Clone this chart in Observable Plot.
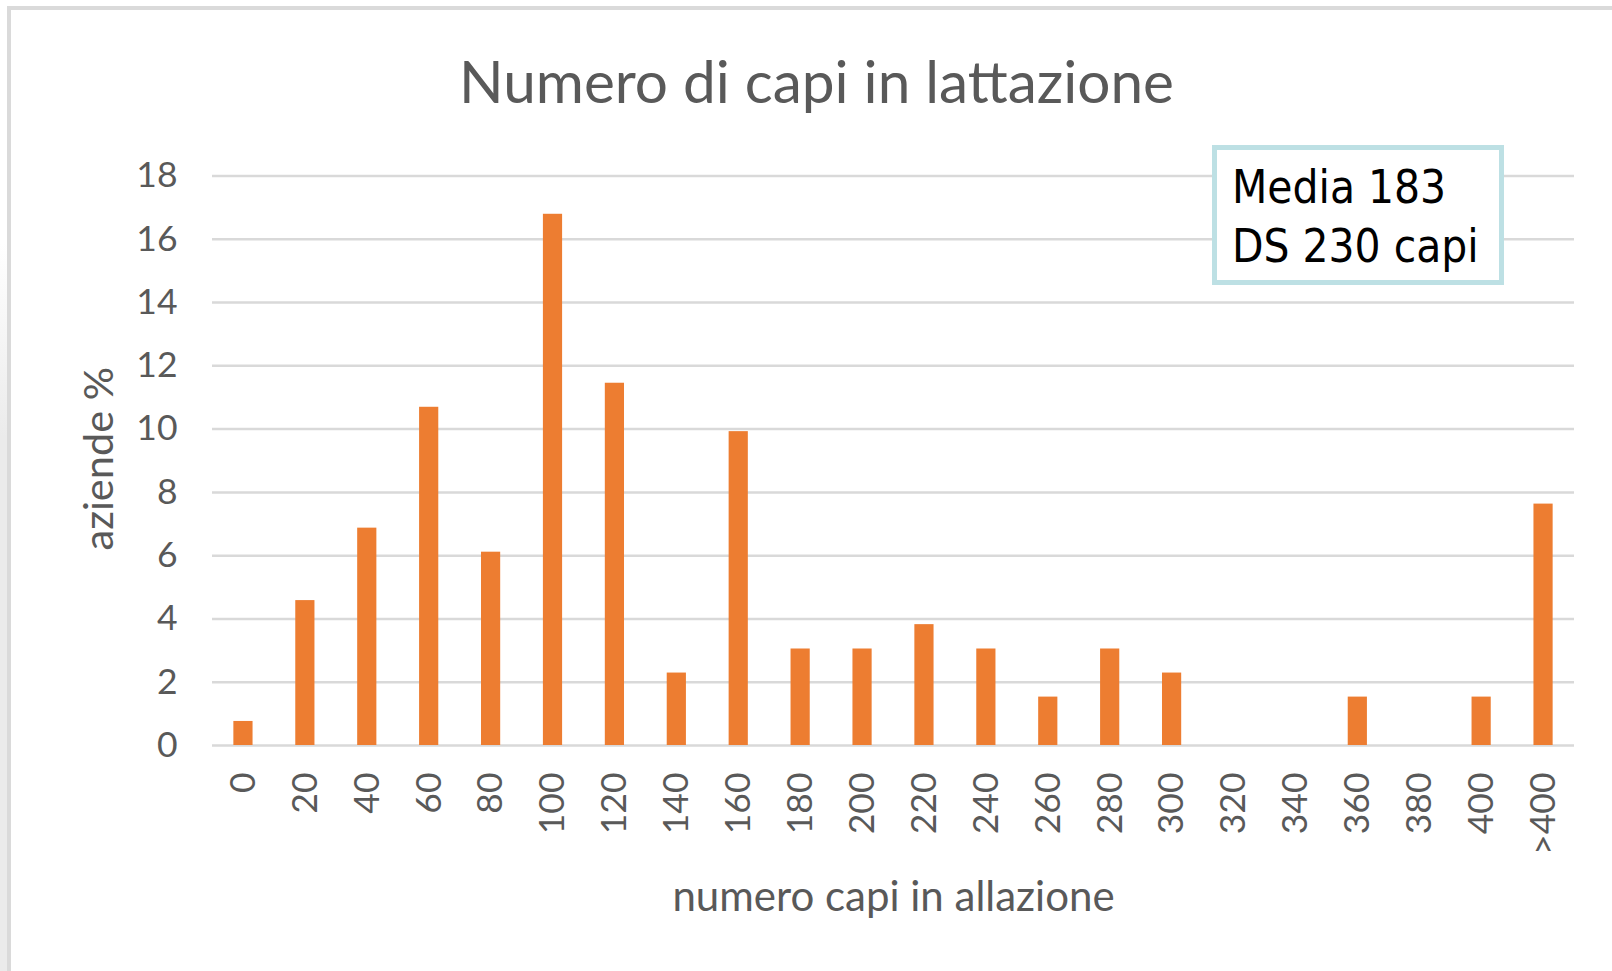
<!DOCTYPE html>
<html>
<head>
<meta charset="utf-8">
<script src="https://cdn.jsdelivr.net/npm/d3@7"></script>
<script src="https://cdn.jsdelivr.net/npm/@observablehq/plot@0.6"></script>
<style>
  html, body { margin: 0; padding: 0; background: #fff; }
  #wrap { position: relative; width: 1612px; height: 971px; overflow: hidden; background: #fff; }
  #leftstrip { position: absolute; left: 0; top: 0; width: 7px; height: 971px;
    background: linear-gradient(#ffffff 0%, #ffffff 25%, #ebebeb 45%, #ebebeb 100%); }
  #frameTop { position: absolute; left: 7px; top: 6px; width: 1605px; height: 4px; background: #dadada; }
  #frameLeft { position: absolute; left: 7px; top: 6px; width: 4px; height: 965px; background: #dadada; }
  #chart { position: absolute; left: 0; top: 0; }
  #note { position: absolute; left: 1212px; top: 145px; width: 292px; height: 140px; box-sizing: border-box;
    border: 5px solid #bde0e4; background: #fff; color: #000;
    font-family: "DejaVu Sans Condensed", "DejaVu Sans", sans-serif; font-stretch: condensed;
    font-size: 45.5px; line-height: 59px; padding: 8px 0 0 15px; white-space: nowrap; }
</style>
</head>
<body>
<div id="wrap">
  <div id="leftstrip"></div>
  <div id="frameTop"></div>
  <div id="frameLeft"></div>
  <div id="chart"></div>
  <div id="note"><div>Media 183</div><div>DS 230 capi</div></div>
</div>
<script>
const titleText = "Numero di capi in lattazione";
const xLabel = "numero capi in allazione";
const yLabel = "aziende %";
const categories = ["0","20","40","60","80","100","120","140","160","180","200","220","240","260","280","300","320","340","360","380","400",">400"];
const values = [0.76,4.58,6.87,10.69,6.11,16.79,11.45,2.29,9.92,3.05,3.05,3.82,3.05,1.53,3.05,2.29,0,0,1.53,0,1.53,7.63];
const yTicks = [0,2,4,6,8,10,12,14,16,18];

const data = categories.map((c, i) => ({cat: c, value: values[i]}));
const textColor = "#595959";

const chart = Plot.plot({
  width: 1612,
  height: 971,
  marginLeft: 212,
  marginRight: 38,
  marginTop: 175.5,
  marginBottom: 226,
  style: {fontFamily: "Lato", background: "transparent", color: textColor},
  x: {domain: categories, paddingInner: 0.69, paddingOuter: 0.345, round: false, label: null, axis: null},
  y: {domain: [0, 18], label: null, axis: null},
  marks: [
    Plot.ruleY(yTicks, {stroke: "#d9d9d9", strokeWidth: 2.5}),
    Plot.barY(data, {x: "cat", y: "value", fill: "#ED7D31"}),
    Plot.axisY(yTicks, {tickSize: 0, tickPadding: 35, fontSize: 35.5, fill: textColor, label: null}),
    Plot.axisX({tickSize: 0, tickPadding: 27, tickRotate: -90, fontSize: 35.5, fill: textColor, label: null}),
    Plot.text([titleText], {text: d => d, frameAnchor: "top", dx: -77, dy: -73.5, lineAnchor: "bottom", textAnchor: "middle", fontSize: 58.5, fill: textColor}),
    Plot.text([xLabel], {text: d => d, frameAnchor: "bottom", dx: 0, dy: 165, lineAnchor: "bottom", textAnchor: "middle", fontSize: 42, fill: textColor}),
    Plot.text([yLabel], {text: d => d, frameAnchor: "left", dx: -100, dy: -2, rotate: -90, lineAnchor: "bottom", textAnchor: "middle", fontSize: 41.5, fill: textColor})
  ]
});
document.getElementById("chart").appendChild(chart);
</script>
</body>
</html>
